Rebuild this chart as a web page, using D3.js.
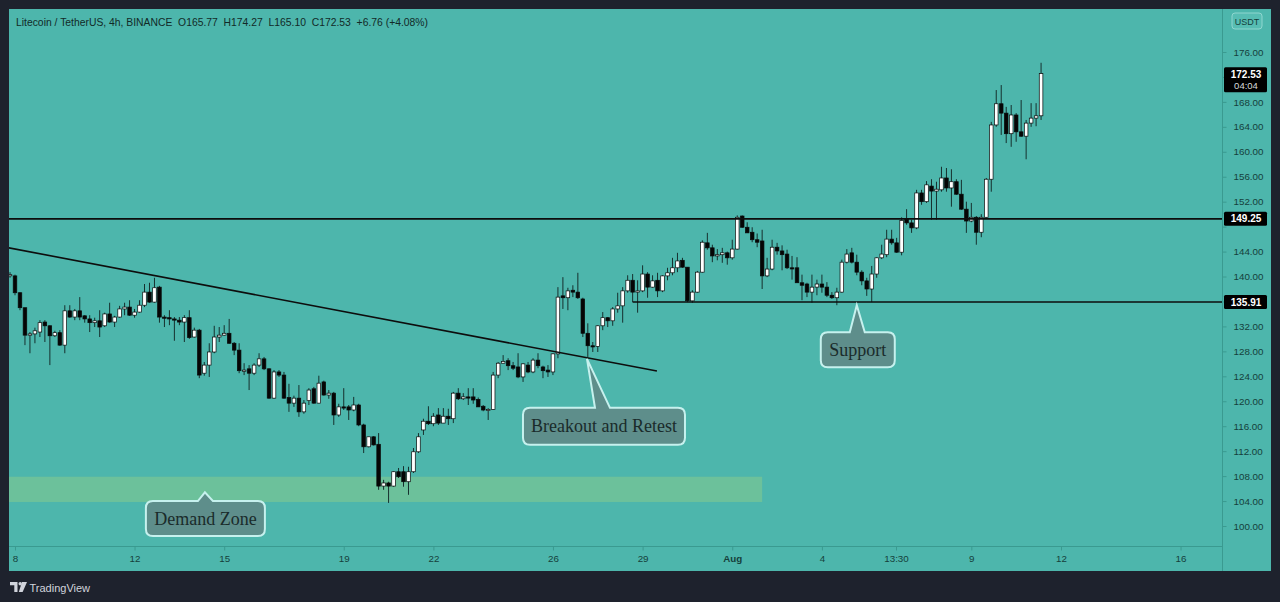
<!DOCTYPE html>
<html><head><meta charset="utf-8">
<script src="https://cdn.jsdelivr.net/npm/d3@7"></script>
<style>html,body{margin:0;padding:0;background:#1e222d;overflow:hidden}</style>
</head><body><svg id="c" width="1280" height="602"></svg>
<script>
// ---------------- data ----------------
const headerText = "Litecoin / TetherUS, 4h, BINANCE  O165.77  H174.27  L165.10  C172.53  +6.76 (+4.08%)";
const currency = "USDT";
const firstBar = Date.UTC(2021, 6, 7, 20);
const barHours = 4;
// [open, high, low, close]
const ohlc = [
[140.2,140.7,139.8,140.3],[140.1,140.3,137.0,137.4],[137.4,137.5,134.6,135.0],[135.0,135.0,129.0,130.6],
[130.6,131.1,127.7,130.8],[130.8,131.8,129.3,131.3],[131.1,133.0,130.3,132.6],[132.7,133.0,129.5,132.1],
[132.1,132.2,125.8,130.5],[130.5,131.3,130.3,131.0],[131.0,131.4,128.9,129.0],[129.0,135.4,127.7,134.5],
[134.5,135.4,133.4,133.5],[133.5,134.8,133.0,134.5],[134.5,136.7,133.0,133.5],[133.7,133.8,132.6,133.2],
[133.2,133.8,131.1,132.6],[132.6,133.4,131.9,132.9],[132.9,134.6,130.3,131.9],[132.1,134.2,131.9,134.0],
[134.0,135.8,132.6,132.7],[132.7,133.7,131.9,133.5],[133.5,135.3,133.4,134.8],[134.8,135.8,133.8,135.1],
[135.1,136.2,133.7,133.8],[133.8,134.8,133.4,134.3],[134.3,136.2,134.2,135.4],[135.4,138.8,135.1,137.5],
[137.5,139.0,135.8,135.9],[135.9,139.8,135.8,138.2],[138.3,138.5,132.6,133.5],[133.5,133.8,131.9,133.4],
[133.4,134.6,132.2,133.2],[133.2,133.5,129.7,133.1],[133.0,133.5,132.2,132.7],[132.7,133.8,129.5,133.4],
[133.4,134.6,130.0,130.2],[130.3,131.8,130.2,131.4],[131.4,131.6,123.7,124.2],[124.5,126.3,124.1,125.8],
[125.8,129.3,123.9,127.9],[127.9,132.1,127.7,130.3],[130.3,131.9,129.5,130.6],[130.6,132.2,130.5,130.9],
[130.9,133.2,129.2,129.3],[129.3,129.5,127.4,128.2],[128.2,129.3,124.5,124.9],[124.9,126.1,124.2,125.0],
[125.2,125.8,121.8,124.5],[124.5,126.1,124.2,125.8],[125.8,127.7,125.5,126.8],[126.8,127.1,125.0,125.2],
[125.2,125.3,120.4,120.5],[120.5,125.0,120.4,124.7],[124.7,125.0,123.9,124.2],[124.2,124.7,120.4,120.5],
[120.6,122.8,118.3,119.7],[119.7,120.9,119.1,120.5],[120.5,122.6,117.5,118.3],[118.3,120.2,118.0,119.7],
[120.1,122.1,119.4,121.8],[122.0,122.3,119.6,119.7],[119.7,124.1,119.7,122.9],[123.1,123.3,120.9,121.0],
[121.0,121.8,120.4,121.3],[121.3,121.5,116.2,117.8],[117.8,119.6,117.5,119.1],[119.1,122.1,118.6,119.0],
[119.1,119.4,117.0,118.6],[118.6,120.7,118.4,119.4],[119.4,119.6,116.0,116.2],[116.2,116.4,111.7,112.7],
[112.7,114.3,112.6,114.3],[114.3,114.4,112.9,113.0],[113.1,114.9,105.8,106.4],[106.4,107.4,105.8,106.9],
[106.9,107.1,103.7,106.4],[106.4,108.8,106.3,108.7],[108.7,109.3,107.7,107.9],[108.7,109.6,106.3,107.1],
[107.1,109.5,105.0,108.7],[108.7,112.5,108.5,111.9],[111.9,114.9,111.7,114.3],[115.4,117.2,114.6,116.8],
[116.8,119.2,116.2,116.4],[116.4,118.1,116.0,117.6],[117.8,118.9,116.2,116.5],[116.5,118.9,116.5,117.6],
[117.6,118.8,116.2,117.2],[117.2,121.5,116.5,121.3],[121.3,122.1,120.2,120.4],[120.4,121.3,120.2,120.7],
[120.7,122.1,119.4,120.6],[120.7,122.1,119.6,120.2],[120.3,120.6,119.1,119.1],[119.2,119.4,118.4,118.6],
[118.6,118.9,117.0,118.7],[118.7,124.7,118.6,124.2],[124.2,126.3,123.7,126.1],[126.1,127.4,126.1,126.4],
[126.5,126.9,125.0,125.7],[125.7,126.3,125.0,125.3],[125.5,127.7,123.7,123.9],[123.9,126.1,123.1,126.0],
[125.8,126.3,124.5,124.7],[124.7,126.9,124.5,126.6],[126.6,127.7,125.3,125.7],[125.5,125.7,123.7,124.9],
[125.0,125.8,123.9,124.7],[124.7,127.7,124.2,127.6],[127.6,138.3,126.9,136.7],[136.9,139.9,134.8,136.6],
[136.6,138.2,134.6,137.7],[137.8,138.6,136.7,137.5],[137.5,140.6,136.4,136.6],[136.4,136.6,130.3,130.9],
[130.9,132.5,127.1,128.9],[128.9,129.5,127.9,128.8],[128.8,132.2,127.9,132.1],[132.1,134.3,131.4,133.4],
[133.4,133.5,131.9,132.9],[132.9,135.1,132.1,134.8],[134.8,137.4,134.2,135.3],[135.3,138.3,132.6,137.7],
[137.7,140.2,137.4,139.4],[139.4,140.4,135.9,137.5],[137.5,139.4,134.2,137.7],[137.7,141.8,137.5,140.4],
[140.4,140.7,136.6,138.3],[138.3,140.2,138.2,139.3],[139.4,140.6,136.7,137.7],[137.7,140.2,137.5,140.1],
[140.1,141.4,139.4,140.6],[140.6,143.0,140.2,141.4],[141.4,143.8,140.7,142.5],[142.6,143.0,141.4,141.5],
[141.5,141.5,135.9,136.1],[136.1,137.8,135.8,137.5],[137.5,140.9,137.4,140.7],[140.7,145.8,140.6,145.5],
[145.4,147.0,144.3,144.6],[144.6,145.1,142.3,143.3],[143.3,144.4,142.6,143.5],[143.5,144.6,142.2,143.8],
[143.8,144.0,141.9,143.0],[143.0,145.9,142.7,144.4],[144.4,149.8,144.3,149.5],[149.7,149.8,147.8,147.9],
[147.9,148.7,147.0,147.0],[147.1,147.9,145.5,145.9],[145.9,146.9,144.7,145.5],[145.7,147.5,138.0,140.1],
[140.1,143.0,139.9,141.2],[141.2,145.9,141.0,144.7],[144.7,145.4,143.5,144.1],[144.1,145.0,141.0,143.5],
[143.6,144.3,141.2,141.4],[141.4,143.3,139.5,141.3],[141.4,143.1,139.0,139.0],[139.0,140.3,136.2,138.6],
[138.8,139.0,136.7,137.5],[137.5,140.3,135.8,138.3],[138.3,139.5,137.0,138.8],[138.8,140.3,137.4,138.3],
[138.3,139.1,136.7,137.0],[137.0,137.5,136.4,136.6],[136.6,138.2,135.4,137.5],[137.5,142.7,137.4,142.3],
[142.3,144.4,142.1,143.6],[143.8,144.6,142.1,142.3],[142.3,143.5,140.2,140.7],[140.7,141.0,138.6,139.3],
[139.3,139.8,136.9,138.0],[138.0,141.7,135.9,140.4],[140.4,143.1,139.8,143.0],[143.0,145.1,142.8,143.6],
[143.5,147.5,143.1,146.0],[146.0,147.5,145.1,145.4],[145.4,146.2,143.8,143.9],[143.9,149.5,143.4,149.0],
[149.2,150.8,148.3,148.6],[148.6,149.1,147.0,147.8],[147.8,153.9,147.6,153.4],[153.4,153.9,151.5,152.0],
[152.0,155.3,151.8,154.7],[154.5,155.6,149.1,153.7],[153.7,155.2,149.1,154.0],[153.9,157.6,153.6,155.8],
[155.8,157.4,153.6,154.2],[154.2,157.2,151.2,155.2],[155.2,155.6,153.1,153.2],[153.2,155.5,150.7,150.8],
[150.8,152.0,147.0,148.9],[148.9,151.8,148.7,149.5],[149.5,149.7,145.1,147.1],[147.1,150.0,146.3,149.5],
[149.5,155.8,149.4,155.6],[155.6,164.8,153.6,164.3],[164.3,169.9,164.0,167.7],[167.7,170.7,162.7,166.2],
[166.2,167.2,161.4,162.9],[162.9,167.5,160.8,165.9],[165.9,166.2,161.6,163.2],[163.2,168.3,162.4,162.5],
[162.5,165.1,158.8,164.6],[164.6,167.8,164.0,165.4],[165.4,167.8,164.1,165.77],[165.77,174.27,165.10,172.53]
];
const priceTicks = d3.range(100, 177, 4);
const timeTicks = [
  [Date.UTC(2021,6,8),"8"],[Date.UTC(2021,6,12),"12"],[Date.UTC(2021,6,15),"15"],[Date.UTC(2021,6,19),"19"],
  [Date.UTC(2021,6,22),"22"],[Date.UTC(2021,6,26),"26"],[Date.UTC(2021,6,29),"29"],[Date.UTC(2021,7,1),"Aug"],
  [Date.UTC(2021,7,4),"4"],[Date.UTC(2021,7,6,11,30),"13:30"],[Date.UTC(2021,7,9),"9"],[Date.UTC(2021,7,12),"12"],
  [Date.UTC(2021,7,16),"16"]
];
const levelPrices = [149.25, 135.91];
const levelStarts = [Date.UTC(2021,6,7,0), Date.UTC(2021,6,28,16)];
const trendTimes = [Date.UTC(2021,6,7,19), Date.UTC(2021,6,29,11,30)];
const trendPrices = [144.6, 124.85];
const zoneTimes = [Date.UTC(2021,6,7,0), Date.UTC(2021,7,2,0)];
const zonePrices = [103.85, 107.9];
const calloutTexts = ["Demand Zone", "Breakout and Retest", "Support"];
const calloutTimes = [Date.UTC(2021,6,14,8,30), Date.UTC(2021,6,27,3,20), Date.UTC(2021,7,5,4,0)];
const calloutPrices = [105.4, 126.8, 135.4];
const lastPrice = 172.53;
const countdown = "04:04";

// ---------------- layout / style ----------------
const W = 1280, H = 602;
const panel = {x0: 9, y0: 9, x1: 1271, y1: 571};
const plot = {x0: 9, y0: 9, x1: 1222, y1: 546};
const teal = "#4db6ac", axisCol = "#3a9a90", textCol = "#153f3b";
const calloutLayout = [
  {dx: -59, dy: 8.7, w: 119, h: 35, b1: -7, b2: 8},
  {dx: -64, dy: 49, w: 162, h: 37, b1: 8, b2: 23},
  {dx: -36, dy: 27, w: 74, h: 35, b1: -7, b2: 8}
];

const svg = d3.select("#c");
svg.append("rect").attr("width", W).attr("height", H).attr("fill", "#1e222d");
svg.append("rect").attr("x", panel.x0).attr("y", panel.y0)
  .attr("width", panel.x1 - panel.x0).attr("height", panel.y1 - panel.y0).attr("fill", teal);

const x = d3.scaleUtc().domain([new Date(Date.UTC(2021,6,8)), new Date(Date.UTC(2021,7,12))]).range([15, 1061]);
const y = d3.scaleLinear().domain([100, 176]).range([526, 52]);

svg.append("clipPath").attr("id", "clip").append("rect")
  .attr("x", plot.x0).attr("y", plot.y0).attr("width", plot.x1 - plot.x0).attr("height", plot.y1 - plot.y0);
const g = svg.append("g").attr("clip-path", "url(#clip)");

// demand zone
g.append("rect")
  .attr("x", x(new Date(zoneTimes[0]))).attr("y", y(zonePrices[1]))
  .attr("width", x(new Date(zoneTimes[1])) - x(new Date(zoneTimes[0])))
  .attr("height", y(zonePrices[0]) - y(zonePrices[1]))
  .attr("fill", "#6cc19b");

// candles
const bars = ohlc.map((d, i) => ({t: new Date(firstBar + i * barHours * 3600e3), o: d[0], h: d[1], l: d[2], c: d[3]}));
const bw = 3.6;
g.selectAll("line.wick").data(bars).join("line").attr("class", "wick")
  .attr("x1", d => x(d.t)).attr("x2", d => x(d.t))
  .attr("y1", d => y(d.h)).attr("y2", d => y(d.l))
  .attr("stroke", "#16302e").attr("stroke-width", 1);
g.selectAll("rect.body").data(bars).join("rect").attr("class", "body")
  .attr("x", d => x(d.t) - bw / 2)
  .attr("y", d => y(Math.max(d.o, d.c)))
  .attr("width", bw)
  .attr("height", d => Math.max(1.2, Math.abs(y(d.o) - y(d.c))))
  .attr("fill", d => d.c >= d.o ? "#ffffff" : "#050505")
  .attr("stroke", "#0a0a0a").attr("stroke-width", 0.7);

// trend line
g.append("line")
  .attr("x1", x(new Date(trendTimes[0]))).attr("y1", y(trendPrices[0]))
  .attr("x2", x(new Date(trendTimes[1]))).attr("y2", y(trendPrices[1]))
  .attr("stroke", "#0d0d0d").attr("stroke-width", 1.6);

// horizontal levels
levelPrices.forEach((p, i) => {
  g.append("line")
    .attr("x1", Math.max(plot.x0, x(new Date(levelStarts[i])))).attr("x2", plot.x1)
    .attr("y1", y(p)).attr("y2", y(p))
    .attr("stroke", "#0d0d0d").attr("stroke-width", 1.6);
});

// callouts
calloutTexts.forEach((txt, i) => {
  const L = calloutLayout[i];
  const tx = x(new Date(calloutTimes[i])), ty = y(calloutPrices[i]);
  const bx = tx + L.dx, by = ty + L.dy, r = 7;
  const p = d3.path();
  p.moveTo(bx + r, by);
  p.lineTo(tx + L.b1, by);
  p.lineTo(tx, ty);
  p.lineTo(tx + L.b2, by);
  p.lineTo(bx + L.w - r, by);
  p.quadraticCurveTo(bx + L.w, by, bx + L.w, by + r);
  p.lineTo(bx + L.w, by + L.h - r);
  p.quadraticCurveTo(bx + L.w, by + L.h, bx + L.w - r, by + L.h);
  p.lineTo(bx + r, by + L.h);
  p.quadraticCurveTo(bx, by + L.h, bx, by + L.h - r);
  p.lineTo(bx, by + r);
  p.quadraticCurveTo(bx, by, bx + r, by);
  p.closePath();
  svg.append("path").attr("d", p.toString())
    .attr("fill", "#5e8e8b").attr("stroke", "#c6f1ee").attr("stroke-width", 2);
  svg.append("text").attr("x", bx + L.w / 2).attr("y", by + L.h / 2 + 6)
    .attr("text-anchor", "middle").attr("font-family", "Liberation Serif, Times New Roman, serif")
    .attr("font-size", 18).attr("fill", "#1a2b2a").text(txt);
});

// axes lines
svg.append("line").attr("x1", plot.x1 + 0.5).attr("x2", plot.x1 + 0.5).attr("y1", panel.y0).attr("y2", panel.y1)
  .attr("stroke", axisCol).attr("stroke-width", 1);
svg.append("line").attr("x1", plot.x0).attr("x2", plot.x1).attr("y1", plot.y1 + 0.5).attr("y2", plot.y1 + 0.5)
  .attr("stroke", axisCol).attr("stroke-width", 1);

// right price axis (labels hidden behind price tags are not drawn)
const tagged = levelPrices.concat([lastPrice]);
const ya = svg.append("g").attr("transform", `translate(${plot.x1 + 0.5},0)`)
  .call(d3.axisRight(y).tickValues(priceTicks).tickFormat(d3.format(".2f")).tickSize(4).tickPadding(7));
ya.select(".domain").remove();
ya.selectAll("line").attr("stroke", axisCol);
ya.selectAll("text").attr("fill", textCol).attr("font-family", "Liberation Sans, Arial, sans-serif").attr("font-size", 9.8)
  .attr("display", d => tagged.some(p => Math.abs(y(p) - y(d)) < 11) ? "none" : null);

// bottom time axis
const xa = svg.append("g").attr("transform", `translate(0,${plot.y1 + 0.5})`)
  .call(d3.axisBottom(x).tickValues(timeTicks.map(d => new Date(d[0])))
    .tickFormat((d, i) => timeTicks[i][1]).tickSize(4).tickPadding(5));
xa.select(".domain").remove();
xa.selectAll("line").attr("stroke", axisCol);
xa.selectAll("text").attr("fill", textCol).attr("font-family", "Liberation Sans, Arial, sans-serif").attr("font-size", 9.8)
  .attr("font-weight", (d, i) => timeTicks[i][1] === "Aug" ? "bold" : "normal");

// currency box
svg.append("rect").attr("x", 1232).attr("y", 13).attr("width", 30).attr("height", 16).attr("rx", 3)
  .attr("fill", "#57bdb3").attr("stroke", "#8fd6cf").attr("stroke-width", 1);
svg.append("text").attr("x", 1247).attr("y", 25).attr("text-anchor", "middle")
  .attr("font-family", "Liberation Sans, Arial, sans-serif").attr("font-size", 9).attr("fill", textCol).text(currency);

// price labels
function priceLabel(p, h, sub) {
  const cy = y(p);
  const top = sub ? cy - 6.5 : cy - h / 2;
  svg.append("rect").attr("x", plot.x1 + 2).attr("y", top).attr("width", 43).attr("height", h)
    .attr("rx", 1.5).attr("fill", "#000");
  svg.append("text").attr("x", plot.x1 + 24).attr("y", top + 10.5).attr("text-anchor", "middle")
    .attr("font-family", "Liberation Sans, Arial, sans-serif").attr("font-size", 10).attr("font-weight", "bold")
    .attr("fill", "#fff").text(d3.format(".2f")(p));
  if (sub) {
    svg.append("text").attr("x", plot.x1 + 24).attr("y", top + 22).attr("text-anchor", "middle")
      .attr("font-family", "Liberation Sans, Arial, sans-serif").attr("font-size", 9.5)
      .attr("fill", "#d8d8d8").text(sub);
  }
}
levelPrices.forEach(p => priceLabel(p, 14, null));
priceLabel(lastPrice, 25, countdown);

// header
svg.append("text").attr("x", 16).attr("y", 26)
  .attr("font-family", "Liberation Sans, Arial, sans-serif").attr("font-size", 10.6)
  .attr("fill", "#122a28").style("white-space", "pre")
  .attr("textLength", 412).attr("lengthAdjust", "spacingAndGlyphs").text(headerText);

// footer logo
const fg = svg.append("g").attr("fill", "#d1d4dc");
fg.append("path").attr("d", "M10,582 H17.5 V592 H14.3 V585.2 H10 Z");
fg.append("circle").attr("cx", 20.2).attr("cy", 583.8).attr("r", 1.7);
fg.append("path").attr("d", "M22,582 H27 L22.6,592 H18.8 Z");
svg.append("text").attr("x", 29.5).attr("y", 591.5)
  .attr("font-family", "Liberation Sans, Arial, sans-serif").attr("font-size", 11)
  .attr("fill", "#d1d4dc").text("TradingView");
</script></body></html>
